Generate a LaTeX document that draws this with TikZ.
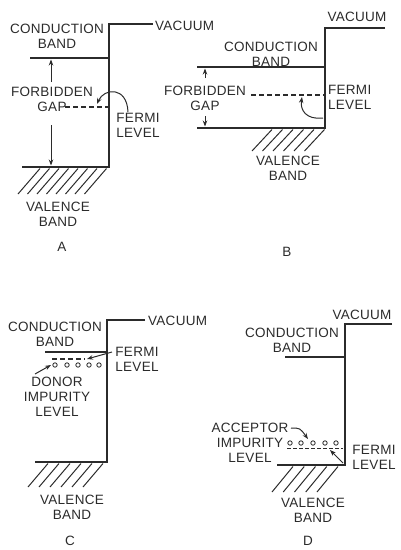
\documentclass[tikz,border=0pt]{standalone}
\usepackage{fontspec}
\setmainfont[LetterSpace=2]{Liberation Sans}
\usetikzlibrary{arrows.meta}
\definecolor{ink}{HTML}{2B2B2B}
\begin{document}
\begin{tikzpicture}[x=1pt,y=-1pt,
 lbl/.style={font=\fontsize{13.5}{15}\selectfont, text=ink, inner sep=0pt, align=center, anchor=north},
 band/.style={draw=ink, line width=1.4pt},
 hatch/.style={draw=ink, line width=1pt},
 fermi/.style={draw=ink, line width=1.1pt, dash pattern=on 5pt off 3pt},
 arr/.style={draw=ink, line width=1pt, -{Stealth[length=6pt,width=4.5pt]}},
 imp/.style={draw=ink, line width=0.8pt},
]
\useasboundingbox (0,0) rectangle (400,550);

% ================= A =================
\coordinate (aTop) at (109,24);
\coordinate (aVac) at (153,24);
\coordinate (aCbL) at (30,58);
\coordinate (aCbR) at (109,58);
\coordinate (aVbL) at (22,167);
\coordinate (aVbR) at (109,167);
\draw[band] (aVac) -- (aTop) -- (aVbR) -- (aVbL);
\draw[band] (aCbL) -- (aCbR);
\node[lbl] (aCB) at (57,24) {CONDUCTION\\BAND};
\node[lbl, anchor=west] (aVAC) at (155,26) {VACUUM};
\node[lbl] (aGap) at (52,87) {FORBIDDEN\\GAP};
\coordinate (aUp1) at (51,82);
\coordinate (aUp2) at (51,59.5);
\coordinate (aDn1) at (51,125);
\coordinate (aDn2) at (51,165.5);
\draw[arr] (aUp1) -- (aUp2);
\draw[arr] (aDn1) -- (aDn2);
\coordinate (aF1) at (65,107);
\coordinate (aF2) at (108,107);
\draw[fermi] (aF1) -- (aF2);
\node[lbl] (aFL) at (138,113) {FERMI\\LEVEL};
\coordinate (aFa) at (128,112);
\coordinate (aFb) at (97,104);
\draw[arr] (aFa) .. controls (127,86) and (104,88) .. (aFb);
\foreach \x in {40,49.5,...,107} \draw[hatch] (\x,168.5) -- (\x-22,194);
\node[lbl] (aVB) at (58,202) {VALENCE\\BAND};
\node[lbl] (aA) at (62,242) {A};

% ================= B =================
\coordinate (bTop) at (325,28);
\coordinate (bVac) at (385,28);
\coordinate (bCbL) at (197,67);
\coordinate (bCbR) at (325,67);
\coordinate (bVbL) at (197,128);
\coordinate (bVbR) at (325,128);
\draw[band] (bVac) -- (bTop) -- (bVbR) -- (bVbL);
\draw[band] (bCbL) -- (bCbR);
\node[lbl] (bVAC) at (357,12) {VACUUM};
\node[lbl] (bCB) at (271,42) {CONDUCTION\\BAND};
\node[lbl] (bGap) at (205,86) {FORBIDDEN\\GAP};
\coordinate (bUp1) at (205,78);
\coordinate (bUp2) at (205,68.5);
\coordinate (bDn1) at (205,116);
\coordinate (bDn2) at (205,126.5);
\draw[arr] (bUp1) -- (bUp2);
\draw[arr] (bDn1) -- (bDn2);
\coordinate (bF1) at (251,95);
\coordinate (bF2) at (324,95);
\draw[fermi] (bF1) -- (bF2);
\node[lbl, align=left, anchor=north west] (bFL) at (328,85) {FERMI\\LEVEL};
\coordinate (bFa) at (323,118);
\coordinate (bFb) at (302,97);
\draw[arr] (bFa) .. controls (306,120) and (300,110) .. (bFb);
\foreach \x in {272,282.5,...,325} \draw[hatch] (\x,129.5) -- (\x-20,151);
\node[lbl] (bVB) at (288,156) {VALENCE\\BAND};
\node[lbl] (bB) at (287,247) {B};

% ================= C =================
\coordinate (cTop) at (107,320);
\coordinate (cVac) at (145,320);
\coordinate (cCbL) at (45,352);
\coordinate (cCbR) at (107,352);
\coordinate (cVbL) at (35,462);
\coordinate (cVbR) at (107,462);
\draw[band] (cVac) -- (cTop) -- (cVbR) -- (cVbL);
\draw[band] (cCbL) -- (cCbR);
\node[lbl, anchor=west] (cVAC) at (148,321) {VACUUM};
\node[lbl] (cCB) at (55,322) {CONDUCTION\\BAND};
\coordinate (cF1) at (52,359);
\coordinate (cF2) at (85,359);
\draw[fermi] (cF1) -- (cF2);
\node[lbl] (cFL) at (137,347) {FERMI\\LEVEL};
\coordinate (cFa) at (112,352);
\coordinate (cFb) at (87,359);
\draw[arr] (cFa) -- (cFb);
\foreach \x in {55,67,78,89,99} \draw[imp] (\x,365) circle (2.2);
\node[lbl] (cDon) at (57,377) {DONOR\\IMPURITY\\LEVEL};
\coordinate (cDa) at (35,374);
\coordinate (cDb) at (51,365);
\draw[arr] (cDa) -- (cDb);
\foreach \x in {48,59,...,104} \draw[hatch] (\x,463.5) -- (\x-20,487);
\node[lbl] (cVB) at (72,495) {VALENCE\\BAND};
\node[lbl] (cC) at (70,536) {C};

% ================= D =================
\coordinate (dTop) at (345,324);
\coordinate (dVac) at (392,324);
\coordinate (dCbL) at (285,357);
\coordinate (dCbR) at (345,357);
\coordinate (dVbL) at (277,465);
\coordinate (dVbR) at (345,465);
\draw[band] (dVac) -- (dTop) -- (dVbR) -- (dVbL);
\draw[band] (dCbL) -- (dCbR);
\node[lbl] (dVAC) at (362,310) {VACUUM};
\node[lbl] (dCB) at (292,328) {CONDUCTION\\BAND};
\node[lbl] (dAcc) at (250,423) {ACCEPTOR\\IMPURITY\\LEVEL};
\foreach \x in {290,301,313,325,336} \draw[imp] (\x,443) circle (2.2);
\coordinate (dF1) at (287,448);
\coordinate (dF2) at (343,448);
\draw[fermi, line width=0.8pt, dash pattern=on 4pt off 2pt] (dF1) -- (dF2);
\coordinate (dAa) at (291,428);
\coordinate (dAb) at (308,439);
\draw[arr] (dAa) .. controls (300,428) .. (dAb);
\coordinate (dFa) at (343,463);
\coordinate (dFb) at (330,450);
\draw[arr] (dFa) -- (dFb);
\node[lbl] (dFL) at (374,445) {FERMI\\LEVEL};
\foreach \x in {293,304.25,...,339} \draw[hatch] (\x,466.5) -- (\x-21,492);
\node[lbl] (dVB) at (313,498) {VALENCE\\BAND};
\node[lbl] (dD) at (308,536) {D};
\end{tikzpicture}
\end{document}
